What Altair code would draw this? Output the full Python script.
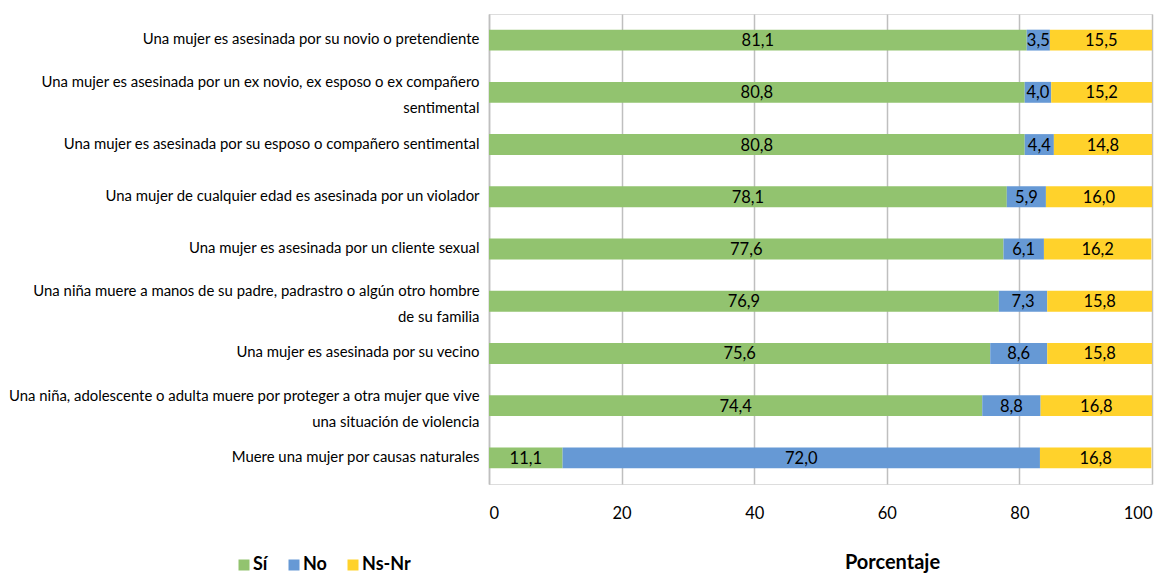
import altair as alt
import pandas as pd

categories = [
    "Una mujer es asesinada por su novio o pretendiente",
    "Una mujer es asesinada por un ex novio, ex esposo o ex compañero |sentimental",
    "Una mujer es asesinada por su esposo o compañero sentimental",
    "Una mujer de cualquier edad es asesinada por un violador",
    "Una mujer es asesinada por un cliente sexual",
    "Una niña muere a manos de su padre, padrastro o algún otro hombre |de su familia",
    "Una mujer es asesinada por su vecino",
    "Una niña, adolescente o adulta muere por proteger a otra mujer que vive |una situación de violencia",
    "Muere una mujer por causas naturales",
]
si = [81.1, 80.8, 80.8, 78.1, 77.6, 76.9, 75.6, 74.4, 11.1]
no = [3.5, 4.0, 4.4, 5.9, 6.1, 7.3, 8.6, 8.8, 72.0]
nsnr = [15.5, 15.2, 14.8, 16.0, 16.2, 15.8, 15.8, 16.8, 16.8]
series = ["Sí", "No", "Ns-Nr"]
colors = ["#92C36F", "#6699D5", "#FFD22B"]

FONT = "Lato"

rows = []
for i, c in enumerate(categories):
    for k, (s, vals) in enumerate(zip(series, [si, no, nsnr])):
        rows.append({"cat": c, "serie": s, "ord": k, "v": vals[i]})
df = pd.DataFrame(rows)

base = alt.Chart(df).transform_stack(
    stack="v", as_=["x0", "x1"], groupby=["cat"], sort=[alt.SortField("ord")]
).transform_calculate(
    mid="(datum.x0 + datum.x1) / 2",
    lab="replace(format(datum.v, '.1f'), '.', ',')",
)

y_enc = alt.Y(
    "cat:N",
    sort=categories,
    scale=alt.Scale(paddingInner=0.6, paddingOuter=0.3),
    axis=alt.Axis(
        title=None,
        labelExpr="split(datum.label, '|')",
        labelFont=FONT,
        labelFontSize=14.9,
        labelColor="#000000",
        labelPadding=10,
        labelLimit=700,
        ticks=False,
        domain=True,
        domainColor="#BFBFBF",
        domainWidth=1.5,
        labelLineHeight=26,
        labelOffset={"condition": {"test": "indexof(datum.label, '|') >= 0", "value": -9}, "value": 0},
    ),
)

bars = base.mark_bar(clip=True).encode(
    x=alt.X(
        "x0:Q",
        scale=alt.Scale(domain=[0, 100], nice=False, zero=True),
        axis=alt.Axis(
            values=[0, 20, 40, 60, 80, 100],
            title="Porcentaje",
            titleFont=FONT,
            titleFontSize=20,
            titleFontWeight="bold",
            titleColor="#000000",
            titleX=403,
            titleY=84,
            titleBaseline="alphabetic",
            labelFont=FONT,
            labelFontSize=16.5,
            labelColor="#000000",
            labelPadding=21,
            ticks=False,
            domain=False,
            grid=True,
            gridColor="#BFBFBF",
            gridWidth=1.5,
        ),
    ),
    x2="x1:Q",
    y=y_enc,
    color=alt.Color(
        "serie:N",
        sort=series,
        scale=alt.Scale(domain=series, range=colors),
        legend=alt.Legend(
            title=None,
            orient="none",
            legendX=-254,
            legendY=542,
            direction="horizontal",
            symbolType="square",
            symbolSize=121,
            symbolStrokeWidth=0,
            labelFont=FONT,
            labelFontSize=18,
            labelFontWeight="bold",
            labelColor="#000000",
            columnPadding=17,
            labelOffset=0,
        ),
    ),
    order=alt.Order("ord:Q"),
)

texts = base.mark_text(font=FONT, fontSize=16.5, color="#000000", baseline="middle", dy=1).encode(
    x=alt.X("mid:Q"),
    y=alt.Y("cat:N", sort=categories),
    text="lab:N",
)

chart = (
    alt.layer(bars, texts)
    .properties(
        width=663,
        height=470,
        autosize=alt.AutoSizeParams(type="none"),
        padding={"left": 481, "top": 6, "right": 8, "bottom": 90},
    )
    .configure_view(stroke=None)
    .configure(background="#FFFFFF")
)

chart.save("out.html", embed_options={"renderer": "svg", "actions": False})
